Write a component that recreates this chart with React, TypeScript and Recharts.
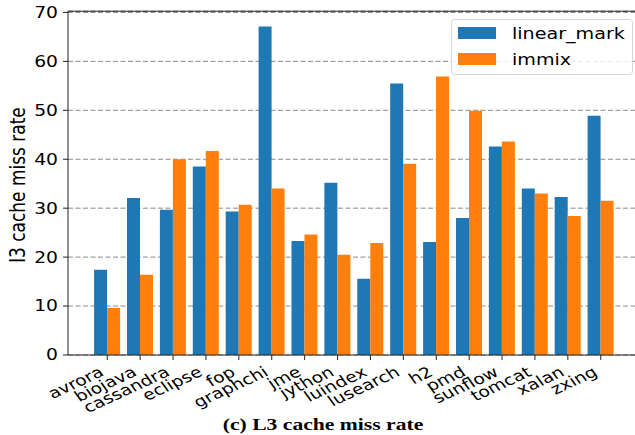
import { BarChart, Bar, XAxis, YAxis, CartesianGrid, Legend, ReferenceLine } from 'recharts'

const benchmarks = [
  'avrora', 'biojava', 'cassandra', 'eclipse', 'fop', 'graphchi', 'jme', 'jython',
  'luindex', 'lusearch', 'h2', 'pmd', 'sunflow', 'tomcat', 'xalan', 'zxing',
]
const seriesNames = ['linear_mark', 'immix']
const linearMark = [17.4, 32.1, 29.7, 38.5, 29.3, 67.1, 23.3, 35.2, 15.6, 55.5, 23.1, 28.0, 42.6, 34.0, 32.3, 48.9]
const immix = [9.6, 16.4, 40.0, 41.7, 30.7, 34.0, 24.6, 20.5, 22.9, 39.1, 56.9, 49.9, 43.6, 33.0, 28.4, 31.5]
const yTicks = [0, 10, 20, 30, 40, 50, 60, 70]

const data = benchmarks.map((name, i) => ({ name, linear_mark: linearMark[i], immix: immix[i] }))

const FONT = 'DejaVu Sans'
const STRETCH = 'scale(1.25,1)'
const AXIS = '#222'

const XTick = ({ x, y, payload }: any) => (
  <g transform={`translate(${x - 2.2},${y + 15})`}>
    <text transform={`${STRETCH} rotate(-30)`} textAnchor="end" fontSize={15} fontFamily={FONT} fill="#000">
      {payload.value}
    </text>
  </g>
)

const YTick = ({ x, y, payload }: any) => (
  <g transform={`translate(${x - 5},${y + 5.4})`}>
    <text transform={STRETCH} textAnchor="end" fontSize={15} fontFamily={FONT} fill="#000">
      {payload.value}
    </text>
  </g>
)

const YLabel = () => (
  <g transform="translate(25,185)">
    <text transform={`${STRETCH} rotate(-90)`} textAnchor="middle" fontSize={17} fontFamily={FONT} fill="#000">
      l3 cache miss rate
    </text>
  </g>
)

// keep legend entries in series order (the default sorts them by name)
const renderLegend = ({ payload }: any) => {
  const items = [...(payload || [])].sort(
    (a: any, b: any) => seriesNames.indexOf(a.value) - seriesNames.indexOf(b.value),
  )
  return (
    <svg width={182} height={56} style={{ display: 'block' }}>
      <rect x={0.5} y={0.5} width={181} height={55} rx={3} fill="#fff" fillOpacity={0.8} stroke="#d6d6d6" />
      {items.map((p: any, i: number) => (
        <g key={p.value}>
          <rect x={7} y={8 + i * 26} width={38} height={12} fill={p.color} />
          <text transform={`translate(61,${20 + i * 26}) ${STRETCH}`} fontSize={15.3} fontFamily={FONT} fill="#000">
            {p.value}
          </text>
        </g>
      ))}
    </svg>
  )
}

export default function App() {
  return (
    <div style={{ position: 'fixed', left: 0, top: 0, width: 635, height: 435, overflow: 'hidden', background: '#fff' }}>
      <BarChart
        width={640}
        height={435}
        data={data}
        margin={{ top: 11.2, right: 0, left: 0, bottom: 50 }}
        barCategoryGap="10%"
        barGap={0}
      >
        <CartesianGrid vertical={false} stroke="#8a8a8a" strokeDasharray="5 2.5" />
        <XAxis
          dataKey="name"
          interval={0}
          height={30}
          padding={{ left: 22.8, right: 22.8 }}
          tick={<XTick />}
          tickSize={5}
          tickMargin={0}
          stroke={AXIS}
          tickLine={{ stroke: AXIS }}
        />
        <YAxis
          width={68}
          domain={[0, 70.25]}
          ticks={yTicks}
          interval={0}
          tick={<YTick />}
          tickSize={5}
          tickMargin={0}
          stroke={AXIS}
          tickLine={{ stroke: AXIS }}
          label={<YLabel />}
        />
        <ReferenceLine y={70.25} stroke={AXIS} />
        <Legend
          layout="vertical"
          align="center"
          verticalAlign="middle"
          wrapperStyle={{ position: 'absolute', left: 451, top: 19, width: 182, height: 56 }}
          content={renderLegend}
        />
        <Bar dataKey="linear_mark" name={seriesNames[0]} fill="#1f77b4" isAnimationActive={false} />
        <Bar dataKey="immix" name={seriesNames[1]} fill="#ff7f0e" isAnimationActive={false} />
      </BarChart>
      <svg width={635} height={435} style={{ position: 'absolute', left: 0, top: 0, pointerEvents: 'none' }}>
        <g transform="translate(323,430)">
          <text transform={STRETCH} textAnchor="middle" fontSize={17.3} fontWeight="bold" fontFamily="Liberation Serif" fill="#000">
            (c) L3 cache miss rate
          </text>
        </g>
      </svg>
    </div>
  )
}
